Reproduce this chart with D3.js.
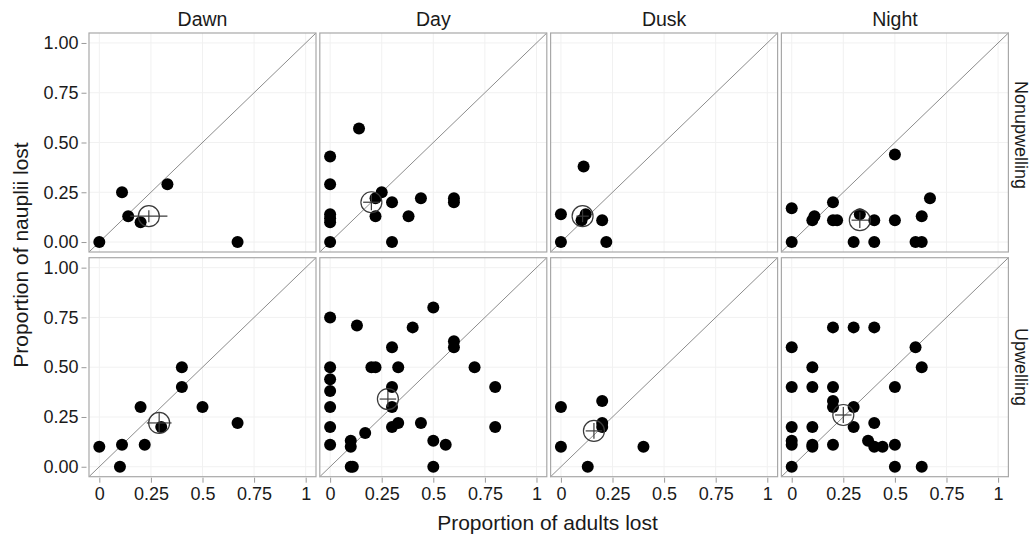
<!DOCTYPE html>
<html><head><meta charset="utf-8">
<script src="https://cdn.jsdelivr.net/npm/d3@7"></script>
<style>body{margin:0;background:#fff;} svg{display:block;font-family:"Liberation Sans",Arial,sans-serif;}</style>
</head><body>
<svg id="chart" width="1033" height="536"></svg>
<script>
const periods = ["Dawn", "Day", "Dusk", "Night"];
const conditions = ["Nonupwelling", "Upwelling"];
const xTicks = [0, 0.25, 0.5, 0.75, 1];
const xTickLabels = ["0", "0.25", "0.5", "0.75", "1"];
const yTicks = [0, 0.25, 0.5, 0.75, 1];
const yTickLabels = ["0.00", "0.25", "0.50", "0.75", "1.00"];

// [adults lost, nauplii lost]
const dawnNon = [[0,0],[0.11,0.25],[0.14,0.13],[0.2,0.1],[0.33,0.29],[0.67,0]];
const dayNon = [[0,0.43],[0,0.29],[0,0.14],[0,0.12],[0,0.1],[0,0],[0.14,0.57],[0.25,0.25],[0.22,0.22],[0.3,0.2],[0.22,0.13],[0.38,0.13],[0.44,0.22],[0.6,0.22],[0.6,0.2],[0.3,0]];
const duskNon = [[0,0.14],[0,0],[0.11,0.38],[0.1,0.11],[0.12,0.14],[0.2,0.11],[0.22,0]];
const nightNon = [[0,0.17],[0,0],[0.1,0.11],[0.11,0.13],[0.2,0.2],[0.2,0.11],[0.22,0.11],[0.33,0.14],[0.4,0.11],[0.3,0],[0.4,0],[0.5,0.44],[0.5,0.11],[0.63,0.13],[0.67,0.22],[0.6,0],[0.63,0]];
const dawnUp = [[0,0.1],[0.1,0],[0.11,0.11],[0.2,0.3],[0.22,0.11],[0.3,0.2],[0.4,0.5],[0.4,0.4],[0.5,0.3],[0.67,0.22]];
const dayUp = [[0,0.75],[0,0.5],[0,0.44],[0,0.38],[0,0.3],[0,0.2],[0,0.11],[0.1,0.13],[0.1,0.1],[0.1,0],[0.11,0],[0.13,0.71],[0.17,0.17],[0.2,0.5],[0.22,0.5],[0.3,0.6],[0.3,0.4],[0.3,0.3],[0.33,0.5],[0.3,0.2],[0.33,0.22],[0.4,0.7],[0.44,0.22],[0.5,0.8],[0.5,0.13],[0.5,0],[0.56,0.11],[0.6,0.63],[0.6,0.6],[0.7,0.5],[0.8,0.4],[0.8,0.2]];
const duskUp = [[0,0.3],[0,0.1],[0.13,0],[0.2,0.33],[0.2,0.22],[0.2,0.2],[0.4,0.1]];
const nightUp = [[0,0.6],[0,0.4],[0,0.2],[0,0.13],[0,0.11],[0,0],[0.1,0.5],[0.1,0.4],[0.1,0.2],[0.1,0.11],[0.1,0.1],[0.2,0.7],[0.2,0.4],[0.2,0.33],[0.2,0.3],[0.2,0.11],[0.3,0.7],[0.3,0.3],[0.3,0.2],[0.4,0.7],[0.4,0.22],[0.37,0.13],[0.4,0.1],[0.44,0.1],[0.5,0.4],[0.5,0.11],[0.5,0],[0.6,0.6],[0.63,0.5],[0.63,0]];

// means: [x, y, xHalfErr, yHalfErr]
const meansNon = [[0.24,0.13,0.09,0.03],[0.2,0.2,0.04,0.04],[0.105,0.13,0.03,0.03],[0.33,0.11,0.04,0.04]];
const meansUp = [[0.29,0.22,0.06,0.05],[0.28,0.34,0.04,0.04],[0.16,0.18,0.04,0.04],[0.25,0.26,0.04,0.04]];

const pointsByPanel = [[dawnNon, dayNon, duskNon, nightNon],[dawnUp, dayUp, duskUp, nightUp]];
const meansByPanel = [meansNon, meansUp];

const svg = d3.select("#chart");
const panelW = 227, panelH = 219;
const colStep = 230.8, rowStep = 224.7;
const left0 = 89, top0 = 33;
const textCol = "#1a1a1a";
const stripCenters = [135, 367];

periods.forEach((p, ci) => {
  const px = left0 + ci * colStep;
  svg.append("text").attr("x", px + panelW/2).attr("y", 26).attr("text-anchor","middle")
    .attr("font-size", 19.5).attr("fill", textCol).text(p);
});

conditions.forEach((c, ri) => {
  svg.append("text").attr("transform", `translate(1014.5,${stripCenters[ri]}) rotate(90)`)
    .attr("text-anchor","middle").attr("font-size", 18).attr("fill", textCol).text(c);
});

for (let ri = 0; ri < 2; ri++) {
  for (let ci = 0; ci < 4; ci++) {
    const px = left0 + ci * colStep, py = top0 + ri * rowStep;
    const x = d3.scaleLinear().domain([-0.05, 1.05]).range([px, px + panelW]);
    const y = d3.scaleLinear().domain([-0.05, 1.05]).range([py + panelH, py]);
    const g = svg.append("g");
    // grid
    g.selectAll(".gx").data(xTicks).join("line")
      .attr("x1", d => x(d)).attr("x2", d => x(d)).attr("y1", py).attr("y2", py + panelH)
      .attr("stroke", "#f1f1f1").attr("stroke-width", 1);
    g.selectAll(".gy").data(yTicks).join("line")
      .attr("y1", d => y(d)).attr("y2", d => y(d)).attr("x1", px).attr("x2", px + panelW)
      .attr("stroke", "#f1f1f1").attr("stroke-width", 1);
    // diagonal
    g.append("line").attr("x1", x(-0.05)).attr("y1", y(-0.05)).attr("x2", x(1.05)).attr("y2", y(1.05))
      .attr("stroke", "#8c8c8c").attr("stroke-width", 1);
    // points
    g.selectAll("circle.pt").data(pointsByPanel[ri][ci]).join("circle")
      .attr("cx", d => x(d[0])).attr("cy", d => y(d[1])).attr("r", 6).attr("fill", "#000");
    // mean
    const m = meansByPanel[ri][ci];
    g.append("circle").attr("cx", x(m[0])).attr("cy", y(m[1])).attr("r", 10.5)
      .attr("fill", "none").attr("stroke", "#3a3a3a").attr("stroke-width", 1.2);
    g.append("line").attr("x1", x(m[0]-m[2])).attr("x2", x(m[0]+m[2])).attr("y1", y(m[1])).attr("y2", y(m[1]))
      .attr("stroke", "#3a3a3a").attr("stroke-width", 1.2);
    g.append("line").attr("x1", x(m[0])).attr("x2", x(m[0])).attr("y1", y(m[1]-m[3])).attr("y2", y(m[1]+m[3]))
      .attr("stroke", "#3a3a3a").attr("stroke-width", 1.2);
    // border
    g.append("rect").attr("x", px).attr("y", py).attr("width", panelW).attr("height", panelH)
      .attr("fill", "none").attr("stroke", "#a8a8a8").attr("stroke-width", 1.2);
    // axes
    if (ci === 0) {
      const ay = svg.append("g").attr("transform", `translate(${px - 2.5},0)`)
        .call(d3.axisLeft(y).tickValues(yTicks).tickFormat((d,i) => yTickLabels[i]).tickSize(5).tickPadding(3));
      ay.select(".domain").remove();
      ay.selectAll("line").attr("stroke", "#999");
      ay.selectAll("text").attr("font-size", 18).attr("fill", textCol).attr("font-family", "Liberation Sans, Arial, sans-serif");
    }
    if (ri === 1) {
      const ax = svg.append("g").attr("transform", `translate(0,${py + panelH + 1})`)
        .call(d3.axisBottom(x).tickValues(xTicks).tickFormat((d,i) => xTickLabels[i]).tickSize(5).tickPadding(5));
      ax.select(".domain").remove();
      ax.selectAll("line").attr("stroke", "#999");
      ax.selectAll("text").attr("font-size", 18).attr("fill", textCol).attr("font-family", "Liberation Sans, Arial, sans-serif");
    }
  }
}

svg.append("text").attr("x", 547.5).attr("y", 530).attr("text-anchor","middle")
  .attr("font-size", 21).attr("fill", textCol).text("Proportion of adults lost");
svg.append("text").attr("transform", "translate(28,255) rotate(-90)").attr("text-anchor","middle")
  .attr("font-size", 21).attr("fill", textCol).text("Proportion of nauplii lost");
</script>
</body></html>
